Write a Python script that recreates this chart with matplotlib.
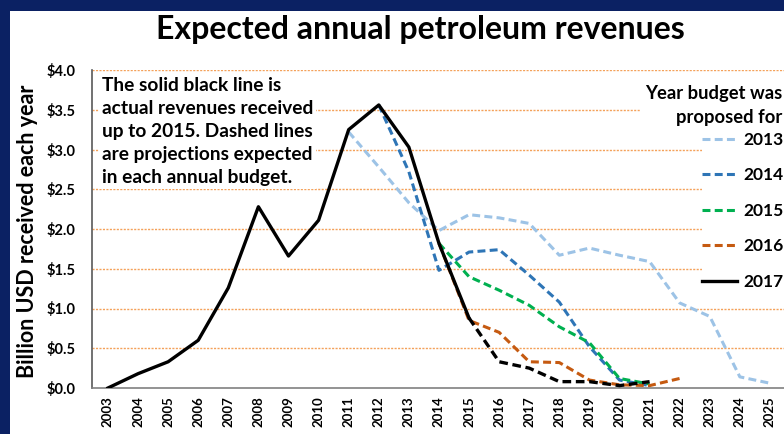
import matplotlib.pyplot as plt
from matplotlib.patches import Rectangle
from matplotlib.lines import Line2D

# data (billion USD)
years = list(range(2003, 2026))
actual_years = list(range(2003, 2016))
actual = [0.0, 0.18, 0.33, 0.6, 1.26, 2.28, 1.66, 2.11, 3.25, 3.56, 3.03, 1.82, 0.88]

b2013_years = list(range(2011, 2026))
b2013 = [3.22, 2.78, 2.33, 1.98, 2.18, 2.14, 2.07, 1.67, 1.76, 1.67, 1.59, 1.07, 0.9, 0.14, 0.06]
b2014_years = list(range(2012, 2022))
b2014 = [3.56, 2.72, 1.48, 1.71, 1.74, 1.42, 1.08, 0.52, 0.1, 0.03]
b2015_years = list(range(2014, 2022))
b2015 = [1.82, 1.4, 1.23, 1.04, 0.77, 0.57, 0.12, 0.05]
b2016_years = list(range(2014, 2023))
b2016 = [1.82, 0.85, 0.7, 0.33, 0.32, 0.1, 0.04, 0.03, 0.12]
b2017_years = list(range(2015, 2022))
b2017 = [0.88, 0.33, 0.25, 0.08, 0.08, 0.03, 0.08]

legend_labels = ["2013", "2014", "2015", "2016", "2017"]
colors = ["#9dc3e6", "#2e75b6", "#00b050", "#c55a11", "#000000"]

plt.rcParams['font.family'] = ['Lato', 'DejaVu Sans']
plt.rcParams['font.weight'] = 'bold'

fig = plt.figure(figsize=(7.84, 4.34), dpi=100)
fig.patch.set_facecolor("#0b2163")
fig.patches.append(Rectangle((10/784, 0), 1, 1 - 11/434, transform=fig.transFigure,
                             facecolor="white", edgecolor="none", zorder=-5))

ax = fig.add_axes([92/784, 1 - 388/434, 693/784, 318/434])
ax.set_facecolor("none")
ax.set_zorder(1)

dash = (2.6, 1.4)
for yrs, vals, c in [(b2013_years, b2013, colors[0]), (b2014_years, b2014, colors[1]),
                     (b2015_years, b2015, colors[2]), (b2016_years, b2016, colors[3])]:
    ax.plot(yrs, vals, color=c, lw=2.2, dashes=dash, zorder=3)
ax.plot(b2017_years, b2017, color="black", lw=2.4, dashes=dash, zorder=4)
ax.plot(actual_years, actual, color="black", lw=2.4, zorder=5)

ax.set_xlim(2002.47, 2025.5)
ax.set_ylim(0, 4.0)
ax.set_yticks([i * 0.5 for i in range(9)])
ax.set_yticklabels(["${:.1f}".format(i * 0.5) for i in range(9)], fontsize=10.5, fontweight='bold')
ax.set_xticks(years)
ax.set_xticklabels([str(y) for y in years], rotation=90, fontsize=9.5, fontweight='bold')
ax.tick_params(length=0, pad=6)
ax.tick_params(axis='y', pad=12)
for v in [i * 0.5 for i in range(1, 9)]:
    ax.axhline(v, color="#f4a15a", lw=1.0, ls=(0, (1.5, 1)), zorder=1)
for s in ["top", "right"]:
    ax.spines[s].set_visible(False)
ax.spines["left"].set_color("#595959")
ax.spines["bottom"].set_color("#808080")
ax.spines["left"].set_linewidth(1.2)
ax.spines["bottom"].set_linewidth(1.2)

fig.text(28/784, 1 - 231/434, "Billion USD received each year", rotation=90,
         ha="center", va="center", fontsize=15.5, fontweight='bold')
fig.text(420/784, 1 - 30/434, "Expected annual petroleum revenues", ha="center",
         va="center", fontsize=23, fontweight='bold')

note = ("The solid black line is\nactual revenues received\nup to 2015. Dashed lines\n"
        "are projections expected\nin each annual budget.")
ax.text(102/784, 1 - 77/434, note, transform=fig.transFigure, ha="left", va="top",
        fontsize=13.8, fontweight='bold', linespacing=1.43, zorder=2,
        bbox=dict(facecolor="white", edgecolor="none", pad=2))

fig.text(782/784, 1 - 105/434, "Year budget was\nproposed for", ha="right", va="center",
         fontsize=13.2, fontweight='bold', linespacing=1.5, zorder=6,
         bbox=dict(facecolor="white", edgecolor="none", pad=3))

handles = [Line2D([], [], color=c, lw=2.2, dashes=dash) for c in colors[:4]]
handles.append(Line2D([], [], color="black", lw=2.4))
leg = fig.legend(handles, legend_labels, loc="upper left",
                 bbox_to_anchor=(702/784, 1 - 132/434), frameon=True, fontsize=12.5,
                 handlelength=2.0, handletextpad=0.4, labelspacing=1.12,
                 borderaxespad=0, borderpad=0.0)
leg.set_zorder(6)
leg.get_frame().set_facecolor("white")
leg.get_frame().set_edgecolor("none")
leg.get_frame().set_alpha(1)
for t in leg.get_texts():
    t.set_fontweight('bold')

fig.savefig("out.png", dpi=100, facecolor=fig.get_facecolor())
